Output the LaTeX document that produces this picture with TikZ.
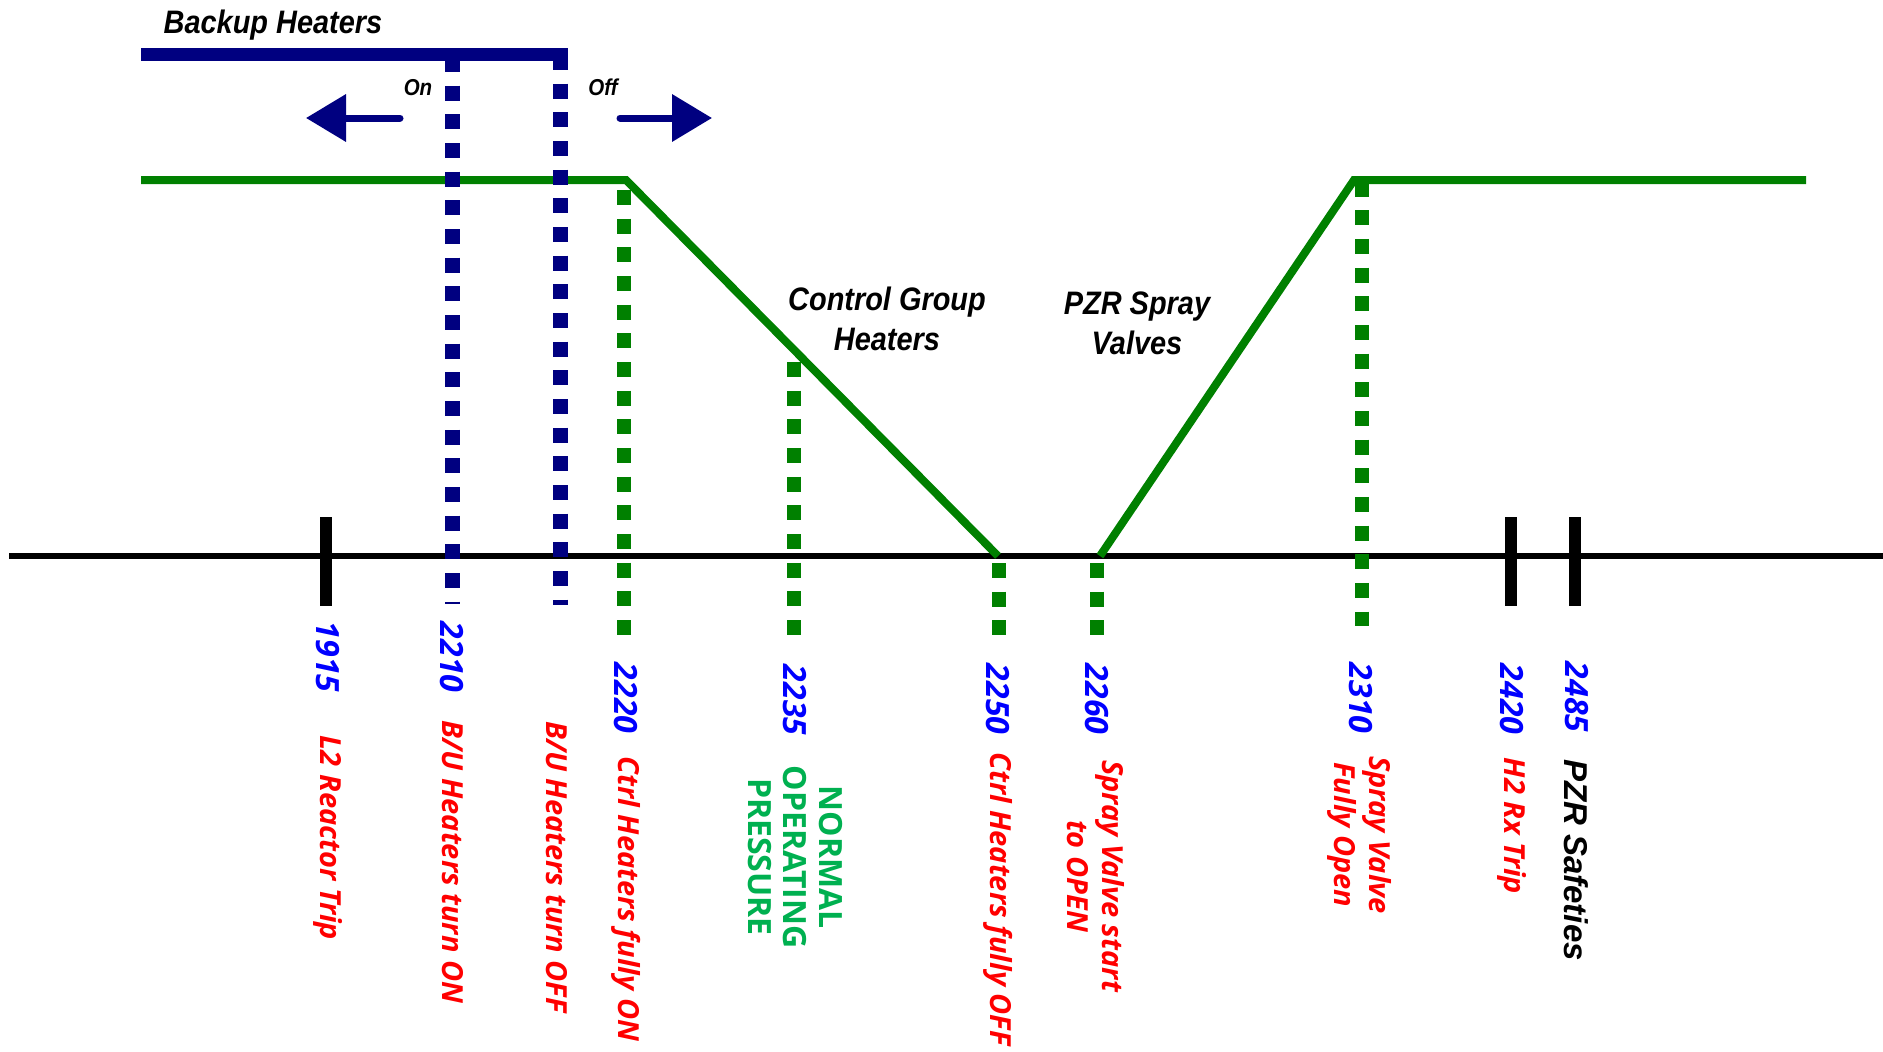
\documentclass[tikz,border=0pt]{standalone}
\usepackage{fontspec}
\setmainfont{Liberation Sans}
\newfontfamily\hdfont[FakeStretch=0.89]{Liberation Sans}
\newfontfamily\lbfont{Open Sans}
\usetikzlibrary{arrows.meta}
\definecolor{navyc}{HTML}{000080}
\definecolor{linegreen}{HTML}{008000}
\definecolor{numblue}{HTML}{0000FF}
\definecolor{evred}{HTML}{FF0000}
\definecolor{nopgreen}{HTML}{00B050}
\tikzset{
  heading/.style={font=\hdfont\bfseries\itshape\fontsize{32.5}{40}\selectfont, inner sep=0pt, anchor=base, align=center},
  smallhead/.style={font=\hdfont\bfseries\itshape\fontsize{23}{28}\selectfont, inner sep=0pt, anchor=base},
  rotlabel/.style={rotate=-90, inner sep=0pt, align=center, text=evred,
    font=\lbfont\bfseries\itshape\fontsize{29}{35}\selectfont},
  setpoint/.style={rotate=-90, inner sep=0pt, text=numblue,
    font=\lbfont\bfseries\itshape\fontsize{32}{38}\selectfont},
  greenlevel/.style={draw=linegreen, line width=8pt, line join=miter},
  greendash/.style={draw=linegreen, line width=14pt, dash pattern=on 15pt off 13.67pt},
  navydash/.style={draw=navyc, line width=15pt, dash pattern=on 15pt off 13.67pt},
  tickmark/.style={draw=black, line width=12pt},
  bigarrow/.style={draw=navyc, line width=7pt, line cap=round,
    -{Triangle[length=40pt,width=46pt]}},
}
\begin{document}
\begin{tikzpicture}[x=1pt,y=-1pt]
\useasboundingbox (0,0) rectangle (1883,1052);

% pressure axis
\coordinate (axL) at (9,556);
\coordinate (axR) at (1883,556);
\draw[line width=6pt] (axL) -- (axR);

% control group heaters and spray valve curves
\coordinate (chA) at (141,180);
\coordinate (chB) at (626,180);
\coordinate (chC) at (998,556);
\coordinate (svA) at (1100,556);
\coordinate (svB) at (1354,180);
\coordinate (svC) at (1806,180);
\draw[greenlevel] (chA) -- (chB) -- (chC);
\draw[greenlevel] (svA) -- (svB) -- (svC);

% green setpoint drop lines
\coordinate (g1t) at (623.5,190);   \coordinate (g1b) at (623.5,635.5);
\coordinate (g2t) at (793.5,362);   \coordinate (g2b) at (793.5,635);
\coordinate (g3t) at (999,563);     \coordinate (g3b) at (999,635);
\coordinate (g4t) at (1097,563);    \coordinate (g4b) at (1097,635);
\coordinate (g5t) at (1362,181.5);  \coordinate (g5b) at (1362,626);
\draw[greendash] (g1t) -- (g1b);
\draw[greendash] (g2t) -- (g2b);
\draw[greendash] (g3t) -- (g3b);
\draw[greendash] (g4t) -- (g4b);
\draw[greendash] (g5t) -- (g5b);

% backup heaters bar and its on/off lines
\coordinate (buL) at (141,54);
\coordinate (buR) at (568,54);
\draw[navyc, line width=13pt] (buL) -- (buR);
\coordinate (onT) at (452,57);   \coordinate (onB) at (452,604);
\coordinate (offT) at (560,55);  \coordinate (offB) at (560,605);
\draw[navydash] (onT) -- (onB);
\draw[navydash] (offT) -- (offB);

% direction arrows
\coordinate (arLs) at (400,118); \coordinate (arLe) at (306,118);
\coordinate (arRs) at (620,118); \coordinate (arRe) at (712,118);
\draw[bigarrow] (arLs) -- (arLe);
\draw[bigarrow] (arRs) -- (arRe);

% trip / safety ticks
\coordinate (t1a) at (326,517);  \coordinate (t1b) at (326,606);
\coordinate (t2a) at (1511,517); \coordinate (t2b) at (1511,606);
\coordinate (t3a) at (1575,517); \coordinate (t3b) at (1575,606);
\draw[tickmark] (t1a) -- (t1b);
\draw[tickmark] (t2a) -- (t2b);
\draw[tickmark] (t3a) -- (t3b);

% headings (base anchor sits on the last line of a two-line heading)
\node[heading] (bh) at (273,33) {Backup Heaters};
\node[heading] (cgh) at (887,350) {Control Group\\Heaters};
\node[heading] (psv) at (1137,354) {PZR Spray\\Valves};
\node[smallhead] (onlbl) at (418,95) {On};
\node[smallhead] (offlbl) at (603,95) {Off};

% setpoint values
\node[setpoint] (p1915) at (328,657) {1915};
\node[setpoint] (p2210) at (452,657) {2210};
\node[setpoint] (p2220) at (626,698) {2220};
\node[setpoint] (p2235) at (795,700) {2235};
\node[setpoint] (p2250) at (998,699) {2250};
\node[setpoint] (p2260) at (1097,699) {2260};
\node[setpoint] (p2310) at (1361,698) {2310};
\node[setpoint] (p2420) at (1512,699) {2420};
\node[setpoint] (p2485) at (1577,697) {2485};

% setpoint descriptions
\node[rotlabel] (d1915) at (328,838) {L2 Reactor Trip};
\node[rotlabel] (d2210) at (453,862) {B/U Heaters turn ON};
\node[rotlabel] (doff) at (557,867) {B/U Heaters turn OFF};
\node[rotlabel] (d2220) at (626,899) {Ctrl Heaters fully ON};
\node[rotlabel, text=nopgreen, font=\lbfont\bfseries\fontsize{32}{35.5}\selectfont] (d2235) at (795,857) {NORMAL\\OPERATING\\PRESSURE};
\node[rotlabel] (d2250) at (998,899) {Ctrl Heaters fully OFF};
\node[rotlabel] (d2260) at (1096,876) {Spray Valve start\\to OPEN};
\node[rotlabel] (d2310) at (1360,835) {Spray Valve\\Fully Open};
\node[rotlabel] (d2420) at (1512,826) {H2 Rx Trip};
\node[rotlabel, text=black, font=\bfseries\itshape\fontsize{33}{38}\selectfont] (d2485) at (1576,860) {PZR Safeties};
\end{tikzpicture}
\end{document}
